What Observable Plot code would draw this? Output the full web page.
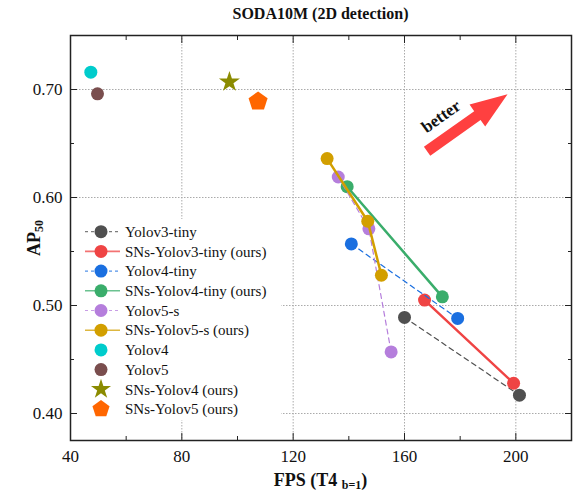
<!DOCTYPE html>
<html><head><meta charset="utf-8">
<script src="https://cdn.jsdelivr.net/npm/d3@7"></script>
<script src="https://cdn.jsdelivr.net/npm/@observablehq/plot@0.6"></script>
<style>body{margin:0;background:#fff}</style>
</head><body><div id="chart"></div>
<script>
// ---- data ----
const seriesNames = ["Yolov3-tiny", "SNs-Yolov3-tiny (ours)", "Yolov4-tiny", "SNs-Yolov4-tiny (ours)", "Yolov5-s", "SNs-Yolov5-s (ours)", "Yolov4", "Yolov5", "SNs-Yolov4 (ours)", "SNs-Yolov5 (ours)"];
const yolov3TinyFPS = [160.0, 201.3];     const yolov3TinyAP = [0.489, 0.417];
const snsYolov3TinyFPS = [167.2, 199.2];  const snsYolov3TinyAP = [0.505, 0.428];
const yolov4TinyFPS = [140.9, 179.1];     const yolov4TinyAP = [0.557, 0.488];
const snsYolov4TinyFPS = [139.4, 173.6];  const snsYolov4TinyAP = [0.610, 0.508];
const yolov5sFPS = [136.2, 147.2, 155.2]; const yolov5sAP = [0.619, 0.571, 0.457];
const snsYolov5sFPS = [132.2, 146.8, 151.7]; const snsYolov5sAP = [0.636, 0.578, 0.528];
const yolov4FPS = [47.3];    const yolov4AP = [0.716];
const yolov5FPS = [49.7];    const yolov5AP = [0.696];
const snsYolov4FPS = [97.1]; const snsYolov4AP = [0.707];
const snsYolov5FPS = [107.4]; const snsYolov5AP = [0.689];
const fpsTicks = [40, 80, 120, 160, 200];
const fpsMinorTicks = [60, 100, 140, 180];
const apTicks = [0.40, 0.50, 0.60, 0.70];
const apMinorTicks = [0.45, 0.55, 0.65];
const titleText = "SODA10M (2D detection)";
const arrowText = "better";

// ---- styles ----
const fpsValues = [yolov3TinyFPS, snsYolov3TinyFPS, yolov4TinyFPS, snsYolov4TinyFPS, yolov5sFPS, snsYolov5sFPS, yolov4FPS, yolov5FPS, snsYolov4FPS, snsYolov5FPS];
const apValues = [yolov3TinyAP, snsYolov3TinyAP, yolov4TinyAP, snsYolov4TinyAP, yolov5sAP, snsYolov5sAP, yolov4AP, yolov5AP, snsYolov4AP, snsYolov5AP];
const colors = ["#505050", "#ef4444", "#1a6fe0", "#3aad6b", "#b57edc", "#d29f00", "#00cccc", "#7a4e4e", "#8b8b00", "#ff6600"];
const lineKinds = ["dash", "solid", "dash", "solid", "dash", "solid", null, null, null, null];
const pentagon = {
  draw(ctx, size) {
    const R = Math.sqrt(size / Math.PI);
    for (let i = 0; i < 5; i++) {
      const a = -Math.PI / 2 + i * 2 * Math.PI / 5;
      const px = R * Math.cos(a), py = R * Math.sin(a);
      i ? ctx.lineTo(px, py) : ctx.moveTo(px, py);
    }
    ctx.closePath();
  }
};
const symbols = ["circle", "circle", "circle", "circle", "circle", "circle", "circle", "circle", "star", pentagon];
const radii = [6.5, 6.5, 6.5, 6.5, 6.5, 6.5, 6.5, 6.5, 6.6, 10];

const rows = [];
seriesNames.forEach((s, i) => fpsValues[i].forEach((f, j) => rows.push({series: s, idx: i, fps: f, ap: apValues[i][j]})));

const W = 579, H = 496, mL = 70, mR = 8, mT = 35, mB = 56;
const FONT = "Liberation Serif, Times New Roman, serif";

const marks = [
  Plot.gridX(fpsTicks, {stroke: "#aaa", strokeOpacity: 1, strokeDasharray: "1.5,1.5", strokeWidth: 1}),
  Plot.gridY(apTicks, {stroke: "#aaa", strokeOpacity: 1, strokeDasharray: "1.5,1.5", strokeWidth: 1})
];
seriesNames.forEach((s, i) => {
  const d = rows.filter(r => r.idx === i);
  if (lineKinds[i]) {
    marks.push(Plot.line(d, {x: "fps", y: "ap", stroke: colors[i],
      strokeWidth: lineKinds[i] === "dash" ? 1.2 : 2.5,
      strokeDasharray: lineKinds[i] === "dash" ? "5,4" : null}));
  }
  marks.push(Plot.dot(d, {x: "fps", y: "ap", fill: colors[i], r: radii[i], symbol: symbols[i]}));
});
for (const anchor of ["bottom", "top"]) {
  marks.push(Plot.axisX(fpsTicks, {anchor, tickSize: -7, fill: "none", label: null, stroke: "#222"}));
  marks.push(Plot.axisX(fpsMinorTicks, {anchor, tickSize: -4, fill: "none", label: null, stroke: "#222"}));
}
for (const anchor of ["left", "right"]) {
  marks.push(Plot.axisY(apTicks, {anchor, tickSize: -7, fill: "none", label: null, stroke: "#222"}));
  marks.push(Plot.axisY(apMinorTicks, {anchor, tickSize: -4, fill: "none", label: null, stroke: "#222"}));
}
marks.push(Plot.axisX(fpsTicks, {anchor: "bottom", tickSize: 0, tickPadding: 9, label: null, fontSize: 17, fill: "#111"}));
marks.push(Plot.axisY(apTicks, {anchor: "left", tickSize: 0, tickPadding: 8, label: null, fontSize: 17, fill: "#111", tickFormat: d => d.toFixed(2)}));
marks.push(Plot.frame({stroke: "#222", strokeWidth: 1.5}));

const chart = Plot.plot({
  width: W, height: H,
  marginLeft: mL, marginRight: mR, marginTop: mT, marginBottom: mB,
  x: {domain: [40, 220], axis: null},
  y: {domain: [0.375, 0.75], axis: null},
  style: {fontFamily: FONT, fontSize: "17px", background: "white", color: "#111"},
  marks
});
document.getElementById("chart").appendChild(chart);

const svg = d3.select(chart);
const sx = chart.scale("x"), sy = chart.scale("y");

// title
svg.append("text").attr("x", (mL + W - mR) / 2).attr("y", 19).attr("text-anchor", "middle")
  .attr("font-family", FONT).attr("font-weight", "bold").attr("font-size", 16).attr("fill", "#111").text(titleText);

// x label
const xl = svg.append("text").attr("x", (mL + W - mR) / 2).attr("y", 486).attr("text-anchor", "middle")
  .attr("font-family", FONT).attr("font-weight", "bold").attr("font-size", 18).attr("fill", "#111");
xl.append("tspan").text("FPS (T4 ");
xl.append("tspan").attr("font-size", 12).attr("dy", 3).text("b=1");
xl.append("tspan").attr("dy", -3).text(")");

// y label
const yl = svg.append("text").attr("transform", "translate(40,238) rotate(-90)").attr("text-anchor", "middle")
  .attr("font-family", FONT).attr("font-weight", "bold").attr("font-size", 18).attr("fill", "#111");
yl.append("tspan").text("AP");
yl.append("tspan").attr("font-size", 12).attr("dy", 3).text("50");

// arrow annotation
const tail = [sx.apply(168.3), sy.apply(0.6423)], tip = [sx.apply(197.2), sy.apply(0.6952)];
const L = Math.hypot(tip[0] - tail[0], tip[1] - tail[1]);
const ang = Math.atan2(tip[1] - tail[1], tip[0] - tail[0]) * 180 / Math.PI;
const hl = 37, sw = 5.5, hw = 13.5;
svg.append("polygon")
  .attr("transform", `translate(${tail[0]},${tail[1]}) rotate(${ang})`)
  .attr("points", [[0, -sw], [L - hl, -sw], [L - hl, -hw], [L, 0], [L - hl, hw], [L - hl, sw], [0, sw]].map(p => p.join(",")).join(" "))
  .attr("fill", "#ff4040");
svg.append("text").attr("transform", `translate(${sx.apply(173.2)},${sy.apply(0.675)}) rotate(${ang})`)
  .attr("text-anchor", "middle").attr("dy", "0.35em")
  .attr("font-family", FONT).attr("font-weight", "bold").attr("font-size", 17).attr("fill", "#111").text(arrowText);

// legend
const lg = svg.append("g").attr("text-anchor", "start");
lg.append("rect").attr("x", 77).attr("y", 219).attr("width", 204).attr("height", 201).attr("fill", "white");
seriesNames.forEach((s, i) => {
  const y = 231.7 + i * 19.7;
  if (lineKinds[i]) {
    lg.append("line").attr("x1", 85).attr("x2", 120).attr("y1", y).attr("y2", y)
      .attr("stroke", colors[i]).attr("stroke-opacity", 0.75)
      .attr("stroke-width", lineKinds[i] === "dash" ? 1.2 : 1.6)
      .attr("stroke-dasharray", lineKinds[i] === "dash" ? "3,3" : null);
  }
  const sym = symbols[i] === "circle" ? d3.symbolCircle : symbols[i] === "star" ? d3.symbolStar : pentagon;
  const r = i === 9 ? 9 : i === 8 ? 6.3 : 6.5;
  lg.append("path").attr("transform", `translate(101,${y})`).attr("d", d3.symbol(sym, r * r * Math.PI)()).attr("fill", colors[i]);
  lg.append("text").attr("x", 125).attr("y", y).attr("dy", "0.35em").attr("text-anchor", "start").attr("font-family", FONT)
    .attr("font-size", 15).attr("fill", "#111").text(s);
});
</script></body></html>
